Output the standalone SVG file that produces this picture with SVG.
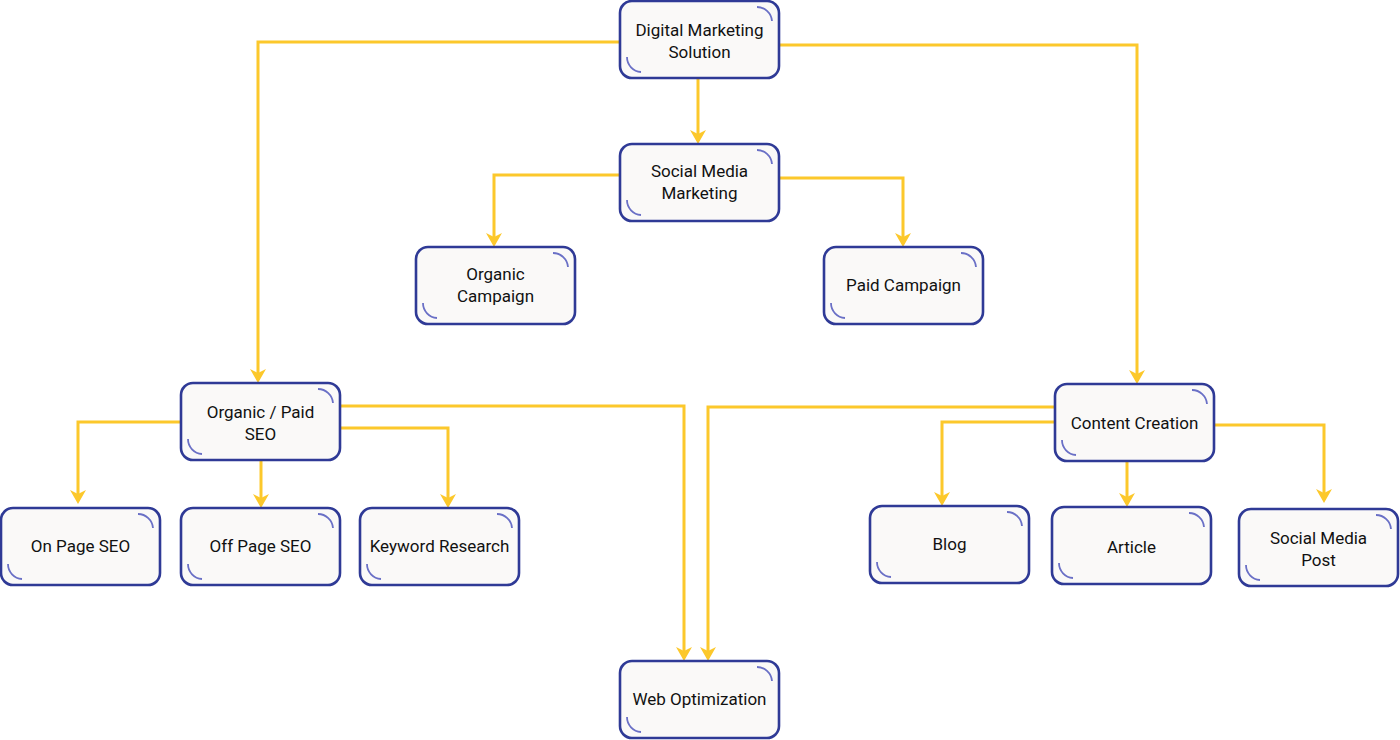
<svg xmlns="http://www.w3.org/2000/svg" width="1400" height="740" viewBox="0 0 1400 740">
<defs>
<style>
.box{fill:#faf9f8;stroke:#2f3a96;stroke-width:2.6}
.deco{fill:none;stroke:#6a70c6;stroke-width:1.8}
.lbl{font-family:Roboto,"Liberation Sans",sans-serif;font-size:17px;fill:#111;text-anchor:middle}
.edge{fill:none;stroke:#fcc82b;stroke-width:3;marker-end:url(#arr)}
</style>
<marker id="arr" markerUnits="userSpaceOnUse" viewBox="-12 -9 16 18" refX="0" refY="0" markerWidth="16" markerHeight="18" orient="auto">
<path d="M-11,-8 L3,0 L-11,8 L-7,0 Z" fill="#fcc82b"/>
</marker>
<g id="deco">
<path class="deco" d="M137,6 A15,15 0 0 1 152,20"/>
<path class="deco" d="M7,56 A15,15 0 0 0 21,71"/>
</g>
</defs>
<rect width="1400" height="740" fill="#ffffff"/>
<g id="connectors">
<path class="edge" d="M620,42 H258 V380"/>
<path class="edge" d="M779,45 H1137 V381"/>
<path class="edge" d="M698,78 V141"/>
<path class="edge" d="M620,175 H494 V244"/>
<path class="edge" d="M779,178 H903 V244"/>
<path class="edge" d="M181,422 H78 V501"/>
<path class="edge" d="M261,460 V505"/>
<path class="edge" d="M340,428 H448 V505"/>
<path class="edge" d="M340,406 H684 V658"/>
<path class="edge" d="M1055,407 H708 V658"/>
<path class="edge" d="M1055,422 H942 V503"/>
<path class="edge" d="M1127,461 V504"/>
<path class="edge" d="M1214,425 H1324 V500"/>
</g>
<g id="n-dms" transform="translate(620,1)"><rect class="box" width="159" height="77" rx="12"/><use href="#deco"/><text class="lbl" x="79.5" y="35">Digital Marketing</text><text class="lbl" x="79.5" y="57">Solution</text></g>
<g id="n-smm" transform="translate(620,144)"><rect class="box" width="159" height="77" rx="12"/><use href="#deco"/><text class="lbl" x="79.5" y="33">Social Media</text><text class="lbl" x="79.5" y="55">Marketing</text></g>
<g id="n-oc" transform="translate(416,247)"><rect class="box" width="159" height="77" rx="12"/><use href="#deco"/><text class="lbl" x="79.5" y="33">Organic</text><text class="lbl" x="79.5" y="55">Campaign</text></g>
<g id="n-pc" transform="translate(824,247)"><rect class="box" width="159" height="77" rx="12"/><use href="#deco"/><text class="lbl" x="79.5" y="44">Paid Campaign</text></g>
<g id="n-ops" transform="translate(181,383)"><rect class="box" width="159" height="77" rx="12"/><use href="#deco"/><text class="lbl" x="79.5" y="35">Organic / Paid</text><text class="lbl" x="79.5" y="57">SEO</text></g>
<g id="n-cc" transform="translate(1055,384)"><rect class="box" width="159" height="77" rx="12"/><use href="#deco"/><text class="lbl" x="79.5" y="45">Content Creation</text></g>
<g id="n-onp" transform="translate(1,508)"><rect class="box" width="159" height="77" rx="12"/><use href="#deco"/><text class="lbl" x="79.5" y="44">On Page SEO</text></g>
<g id="n-offp" transform="translate(181,508)"><rect class="box" width="159" height="77" rx="12"/><use href="#deco"/><text class="lbl" x="79.5" y="44">Off Page SEO</text></g>
<g id="n-kr" transform="translate(360,508)"><rect class="box" width="159" height="77" rx="12"/><use href="#deco"/><text class="lbl" x="79.5" y="44">Keyword Research</text></g>
<g id="n-blog" transform="translate(870,506)"><rect class="box" width="159" height="77" rx="12"/><use href="#deco"/><text class="lbl" x="79.5" y="44">Blog</text></g>
<g id="n-article" transform="translate(1052,507)"><rect class="box" width="159" height="77" rx="12"/><use href="#deco"/><text class="lbl" x="79.5" y="46">Article</text></g>
<g id="n-smp" transform="translate(1239,509)"><rect class="box" width="159" height="77" rx="12"/><use href="#deco"/><text class="lbl" x="79.5" y="35">Social Media</text><text class="lbl" x="79.5" y="57">Post</text></g>
<g id="n-wo" transform="translate(620,661)"><rect class="box" width="159" height="77" rx="12"/><use href="#deco"/><text class="lbl" x="79.5" y="44">Web Optimization</text></g>
</svg>
